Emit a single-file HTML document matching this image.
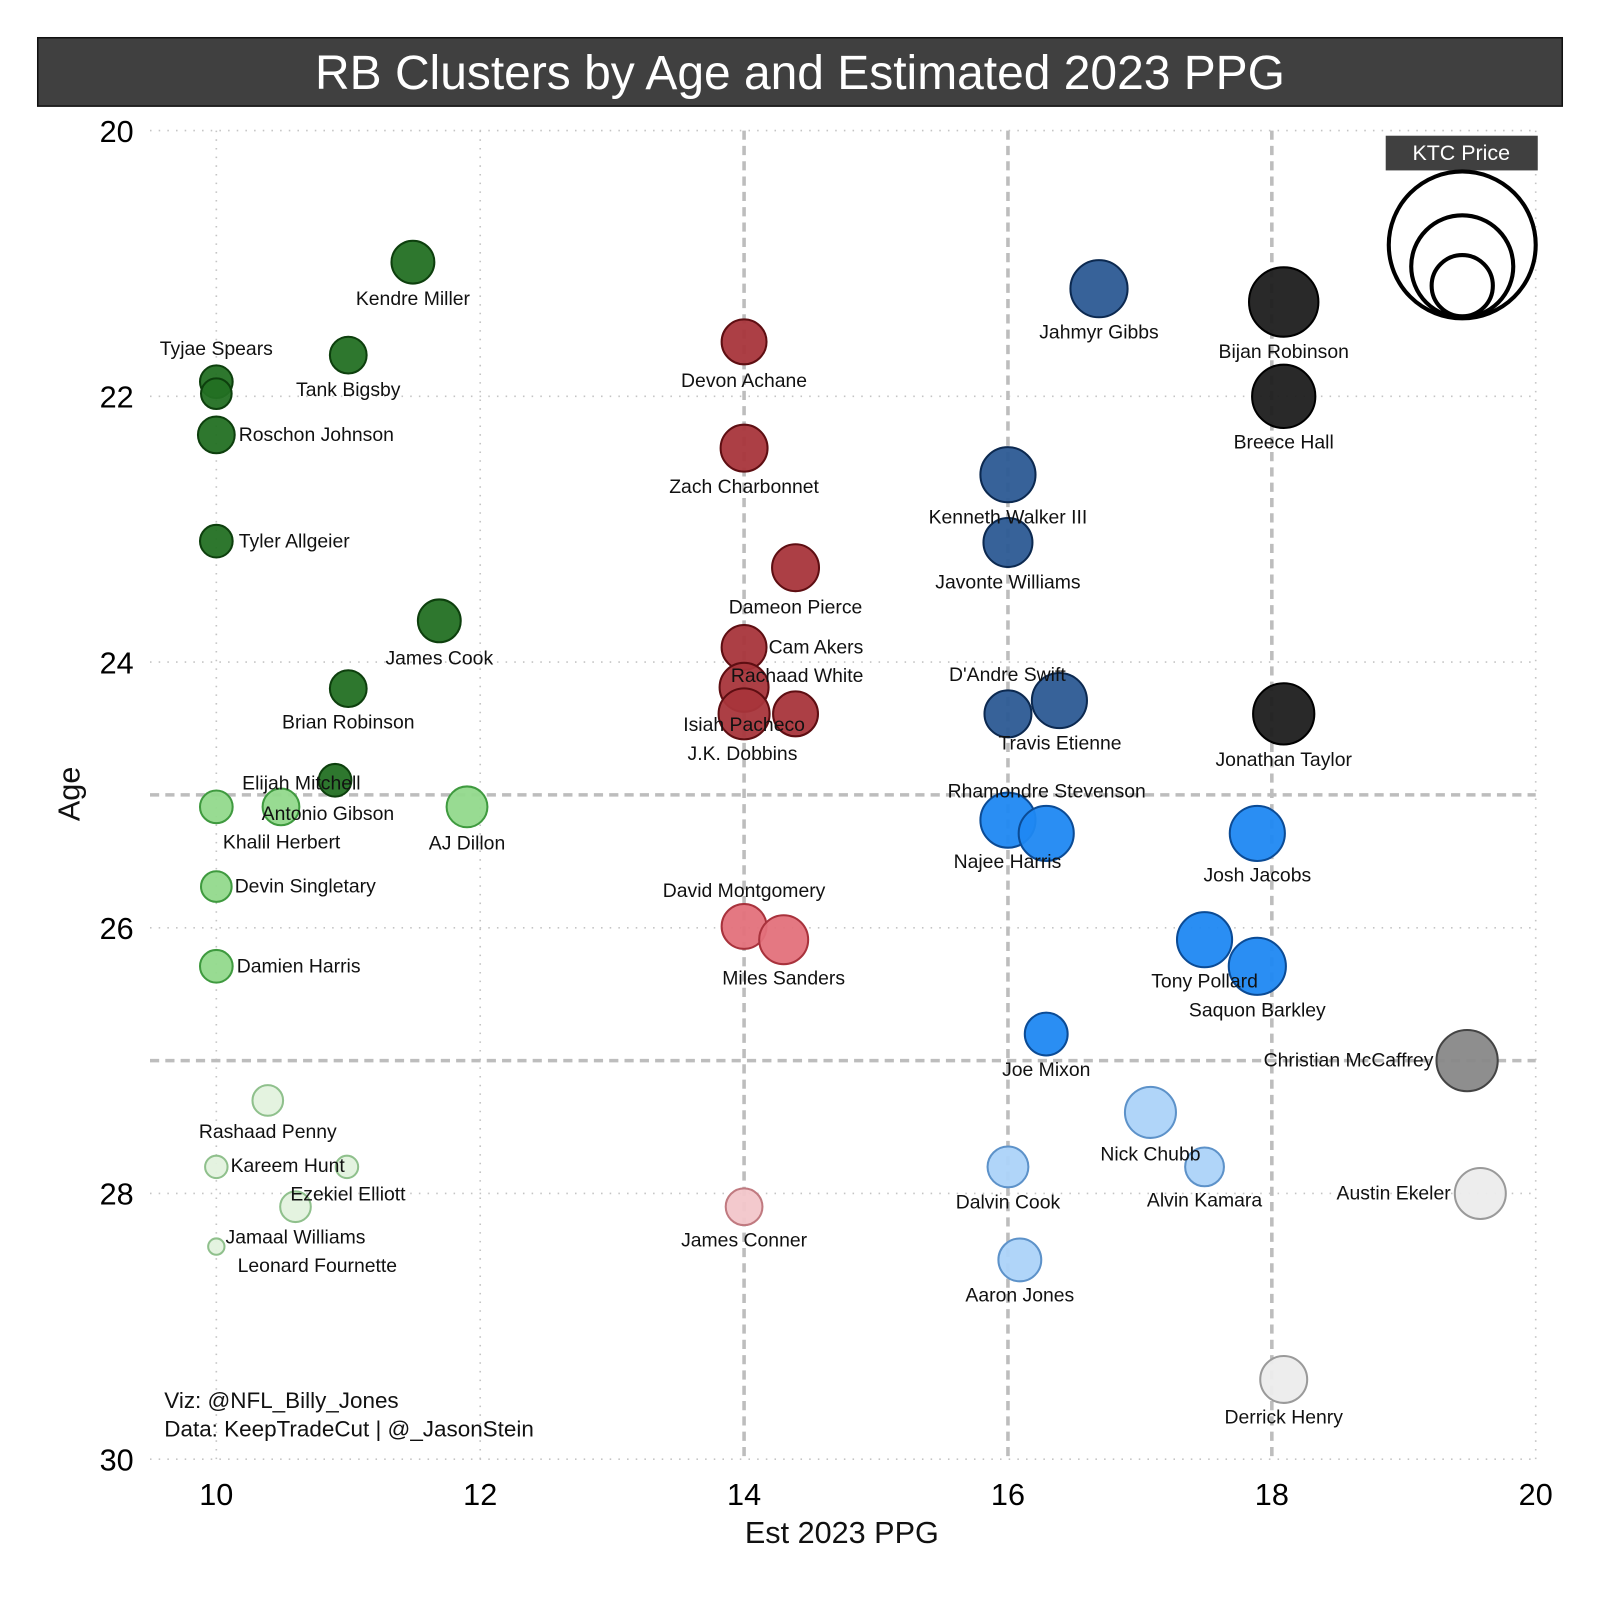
<!DOCTYPE html>
<html><head><meta charset="utf-8"><style>
html,body{margin:0;padding:0;background:#fff;}
svg{display:block;font-family:"Liberation Sans","DejaVu Sans",sans-serif;}
</style></head><body>
<svg id="chart" width="1600" height="1600" viewBox="0 0 1568 1568" xmlns="http://www.w3.org/2000/svg">
<rect x="37" y="37" width="1494" height="67" fill="#404040" stroke="#111" stroke-width="1.5"/>
<text x="784" y="87" text-anchor="middle" font-size="47" fill="#fff">RB Clusters by Age and Estimated 2023 PPG</text>
<g id="grid"></g>
<g id="points"></g>
<g id="labels"></g>
<g id="axes"></g>
<text x="825" y="1512" text-anchor="middle" font-size="30" fill="#111">Est 2023 PPG</text>
<text transform="translate(78,778) rotate(-90)" text-anchor="middle" font-size="30" fill="#111">Age</text>
<text x="161" y="1380" font-size="22" fill="#111">Viz: @NFL_Billy_Jones</text>
<text x="161" y="1408" font-size="22" fill="#111">Data: KeepTradeCut | @_JasonStein</text>
<g>
<rect x="1358" y="133" width="149" height="34" fill="#404040"/>
<text x="1432" y="157" text-anchor="middle" font-size="21" fill="#fff">KTC Price</text>
<circle cx="1433" cy="240" r="72" fill="none" stroke="#000" stroke-width="4"/>
<circle cx="1433" cy="261" r="50" fill="none" stroke="#000" stroke-width="4"/>
<circle cx="1433" cy="280" r="30" fill="none" stroke="#000" stroke-width="4"/>
</g>
</svg>
<script>
const names=["Kendre Miller","Tank Bigsby","Tyjae Spears","","Roschon Johnson","Tyler Allgeier","James Cook","Brian Robinson","Elijah Mitchell",
"Khalil Herbert","Antonio Gibson","AJ Dillon","Devin Singletary","Damien Harris",
"Rashaad Penny","Kareem Hunt","Ezekiel Elliott","Jamaal Williams","Leonard Fournette",
"Devon Achane","Zach Charbonnet","Dameon Pierce","Cam Akers","Rachaad White","Isiah Pacheco","J.K. Dobbins",
"David Montgomery","Miles Sanders","James Conner",
"Jahmyr Gibbs","Kenneth Walker III","Javonte Williams","D'Andre Swift","Travis Etienne",
"Bijan Robinson","Breece Hall","Jonathan Taylor",
"Rhamondre Stevenson","Najee Harris","Josh Jacobs","Tony Pollard","Saquon Barkley","Joe Mixon",
"Nick Chubb","Alvin Kamara","Dalvin Cook","Aaron Jones",
"Christian McCaffrey","Austin Ekeler","Derrick Henry"];
const ppg=[11.49,11.0,10,10,10,10,11.69,11.0,10.9,
10,10.49,11.9,10,10,
10.39,10,10.99,10.6,10,
14,14,14.39,14,14,14,14.39,
14,14.3,14,
16.69,16,16,16.39,16,
18.09,18.09,18.09,
16,16.29,17.89,17.49,17.89,16.29,
17.08,17.49,16,16.09,
19.48,19.58,18.09];
const ages=[20.99,21.69,21.89,21.98,22.29,23.09,23.69,24.2,24.89,
25.09,25.09,25.09,25.69,26.29,
27.3,27.8,27.8,28.1,28.4,
21.59,22.39,23.29,23.89,24.19,24.39,24.39,
25.99,26.09,28.1,
21.19,22.59,23.1,24.29,24.39,
21.29,22.0,24.39,
25.19,25.29,25.29,26.09,26.29,26.8,
27.39,27.8,27.8,28.5,
27.0,28.0,29.4];
const ktcSize=[21,18,16,15,18,16,21,18,16,
16,18,20,15,16,
15,11,11,15,8,
22,23,23,22,24,25,22,
22,24,18,
28,27,24,27,23,
34,31,30,
27,27,27,27,28,21,
25,19,20,21,
30,25,23];
const cluster=[0,0,0,0,0,0,0,0,0,1,1,1,1,1,2,2,2,2,2,3,3,3,3,3,3,3,4,4,5,6,6,6,6,6,7,7,7,8,8,8,8,8,8,9,9,9,9,10,11,11];
const xTicks=[10,12,14,16,18,20];
const yTicks=[20,22,24,26,28,30];
</script>
<script>
const NS="http://www.w3.org/2000/svg";
const X0=147,X1=1505,Y0=128,Y1=1430;
function xs(v){return 212+(v-10)*129.3;}
function ys(v){return 128+(v-20)*130.2;}
const fills=["#237023","#92d98c","#e3f2de","#a8353b","#e3717b","#f2c6ca","#2c5a94","#1d1d1d","#1f88f2","#acd3f9","#888888","#ececec"];
const strokes=["#0d3f0d","#3f9a3f","#8fc08c","#5e0e12","#a8323c","#c07a80","#0c2950","#000","#0b4b95","#5d92c9","#444","#9a9a9a"];
const lab=[["m",0,42],["m",0,40],["m",0,-26],null,["s",22,6],["s",22,6],["m",0,43],["m",0,39],["m",-33,9],
["m",64,41],["m",46,13],["m",0,42],["s",18,6],["s",20,6],
["m",0,37],["s",14,5],["m",1,33],["m",0,36],["m",99,25],
["m",0,44],["m",0,44],["m",0,45],["s",24,6],["m",52,-5],["m",0,17],["m",-52,45],
["m",0,-29],["m",0,44],["m",0,39],
["m",0,49],["m",0,48],["m",0,45],["m",-51,-19],["m",51,35],
["m",0,55],["m",0,51],["m",0,51],
["m",38,-22],["m",-38,34],["m",0,47],["m",0,47],["m",0,49],["m",0,41],
["m",0,47],["m",0,39],["m",0,41],["m",0,41],
["e",-33,6],["e",-29,6],["m",0,43]];
const grid=document.getElementById('grid');
function line(x1,y1,x2,y2,st,w,dash,name){const l=document.createElementNS(NS,'line');
l.setAttribute('x1',x1);l.setAttribute('y1',y1);l.setAttribute('x2',x2);l.setAttribute('y2',y2);
l.setAttribute('stroke',st);l.setAttribute('stroke-width',w);l.setAttribute('stroke-dasharray',dash);


grid.appendChild(l);}
xTicks.forEach(t=>{ if(t===14||t===16||t===18) line(xs(t),Y0,xs(t),Y1,'#bdbdbd',3.5,'9 6','x-divider-'+t); else line(xs(t),Y0,xs(t),Y1,'#c4c4c4',1.6,'1.5 7','x-gridline-'+t);});
yTicks.forEach(t=>line(X0,ys(t),X1,ys(t),'#c4c4c4',1.6,'1.5 7','y-gridline-'+t));
[25,27].forEach(t=>line(X0,ys(t),X1,ys(t),'#bdbdbd',3.5,'9 6','age-divider-'+t));
const axes=document.getElementById('axes');
xTicks.forEach(t=>{const e=document.createElementNS(NS,'text');e.setAttribute('x',xs(t));e.setAttribute('y',1475);e.setAttribute('text-anchor','middle');e.setAttribute('font-size','30');e.textContent=t;


axes.appendChild(e);});
yTicks.forEach(t=>{const e=document.createElementNS(NS,'text');e.setAttribute('x',131);e.setAttribute('y',ys(t)+11);e.setAttribute('text-anchor','end');e.setAttribute('font-size','30');e.textContent=t;


axes.appendChild(e);});
const pts=document.getElementById('points'),labs=document.getElementById('labels');
names.forEach((n,i)=>{const cx=xs(ppg[i]),cy=ys(ages[i]);
const c=document.createElementNS(NS,'circle');c.setAttribute('cx',cx);c.setAttribute('cy',cy);c.setAttribute('r',ktcSize[i]);
c.setAttribute('fill',fills[cluster[i]]);c.setAttribute('fill-opacity','0.95');c.setAttribute('stroke',strokes[cluster[i]]);c.setAttribute('stroke-width','2');


pts.appendChild(c);
if(!n||!lab[i])return;
const L=lab[i];const t=document.createElementNS(NS,'text');
t.setAttribute('x',cx+L[1]);t.setAttribute('y',cy+L[2]);
t.setAttribute('text-anchor',L[0]==='m'?'middle':L[0]==='s'?'start':'end');
t.setAttribute('font-size','19');t.setAttribute('fill','#111');t.textContent=n;


labs.appendChild(t);});
</script>
</body></html>
